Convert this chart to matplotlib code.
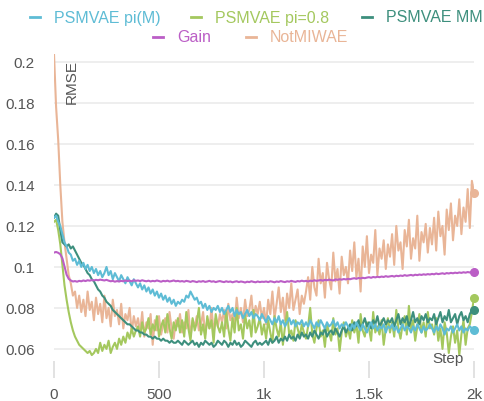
import numpy as np
import matplotlib
matplotlib.use("Agg")
import matplotlib.pyplot as plt
from matplotlib.lines import Line2D

plt.rcParams['font.family'] = ['Liberation Sans', 'DejaVu Sans']

# training steps, one point every 10 steps
steps = np.arange(0, 2001, 10)

# RMSE values, in units of 1e-3 (gain in 1e-4)
notmiwae = np.array([
    204, 178, 162, 140, 122, 112, 104, 96, 92, 86, 88, 80, 86, 78, 84, 76, 88, 79, 83, 74,
    85, 77, 82, 73, 86, 75, 80, 71, 84, 76, 79, 72, 82, 70, 77, 74, 80, 68, 76, 71,
    75, 68, 78, 66, 73, 70, 77, 62, 74, 69, 76, 67, 72, 75, 68, 78, 70, 65, 74, 71,
    77, 68, 73, 70, 79, 66, 74, 71, 76, 69, 72, 78, 67, 74, 70, 80, 68, 75, 71, 77,
    73, 79, 70, 82, 74, 77, 72, 85, 75, 80, 73, 84, 76, 79, 86, 74, 81, 77, 83, 75,
    80, 72, 84, 77, 88, 75, 82, 90, 78, 85, 74, 87, 80, 92, 79, 84, 89, 77, 86, 82,
    88, 95, 84, 100, 90, 86, 104, 92, 97, 85, 102, 94, 89, 107, 93, 99, 87, 105, 96, 100,
    92, 108, 98, 112, 95, 104, 88, 110, 100, 115, 97, 106, 102, 118, 96, 109, 104, 113, 99, 111,
    105, 116, 101, 120, 108, 112, 99, 118, 110, 123, 104, 114, 109, 125, 103, 117, 112, 121, 107, 119,
    111, 124, 108, 127, 115, 120, 106, 128, 118, 131, 113, 125, 120, 133, 116, 129, 122, 138, 119, 142,
    136]) / 1000

gain = np.array([
    1070, 1073, 1069, 1062, 1042, 1002, 962, 942, 934, 929, 931, 928, 932, 930, 934, 931, 935, 933, 936, 934,
    937, 935, 938, 936, 934, 937, 933, 930, 932, 928, 931, 929, 932, 930, 934, 931, 933, 930, 935, 932,
    934, 931, 935, 932, 930, 933, 929, 932, 930, 934, 931, 928, 932, 930, 933, 929, 931, 934, 930, 932,
    929, 931, 928, 932, 930, 927, 931, 929, 926, 930, 928, 931, 927, 929, 932, 928, 930, 926, 929, 931,
    928, 926, 930, 927, 929, 925, 928, 930, 926, 929, 927, 924, 928, 926, 930, 927, 925, 929, 926, 928,
    927, 929, 926, 930, 928, 925, 929, 927, 931, 928, 926, 930, 928, 932, 929, 927, 931, 929, 933, 930,
    932, 929, 933, 931, 935, 932, 934, 936, 933, 937, 935, 938, 936, 934, 939, 937, 940, 938, 941, 939,
    942, 940, 943, 945, 942, 946, 944, 947, 945, 948, 950, 947, 951, 949, 952, 950, 953, 951, 955, 952,
    954, 956, 953, 957, 955, 958, 956, 960, 957, 959, 961, 958, 962, 960, 963, 961, 964, 962, 965, 963,
    966, 964, 968, 965, 967, 969, 966, 970, 968, 971, 969, 972, 970, 973, 971, 974, 972, 975, 973, 976,
    975]) / 10000

pi_m = np.array([
    124, 125, 122, 120, 116, 112, 110, 107, 106, 103, 104, 101, 103, 100, 102, 99, 101, 98, 100, 97,
    99, 96, 98, 95, 97, 100, 96, 98, 94, 97, 95, 93, 96, 94, 92, 95, 93, 91, 94, 92,
    90, 92, 89, 91, 88, 90, 87, 89, 86, 88, 85, 87, 84, 86, 83, 85, 82, 84, 81, 83,
    82, 84, 83, 86, 85, 88, 86, 84, 85, 82, 83, 80, 82, 79, 81, 78, 80, 79, 81, 78,
    80, 77, 79, 81, 78, 80, 76, 79, 77, 78, 75, 77, 79, 76, 78, 75, 77, 76, 74, 77,
    75, 73, 76, 74, 72, 75, 73, 76, 72, 74, 71, 73, 75, 72, 74, 71, 73, 72, 74, 71,
    73, 71, 74, 72, 70, 73, 71, 74, 72, 70, 73, 71, 72, 74, 71, 73, 70, 72, 71, 73,
    71, 69, 72, 70, 73, 71, 69, 72, 70, 68, 71, 73, 70, 72, 69, 71, 70, 72, 68, 71,
    70, 72, 69, 71, 68, 70, 72, 69, 71, 70, 68, 71, 69, 72, 70, 68, 71, 69, 70, 72,
    70, 68, 71, 69, 72, 70, 67, 70, 69, 71, 68, 70, 72, 69, 71, 68, 70, 69, 71, 70,
    69]) / 1000

pi_08 = np.array([
    122, 123, 118, 111, 101, 91, 84, 78, 73, 69, 66, 64, 62, 61, 60, 59, 58, 59, 57, 58,
    60, 58, 63, 59, 62, 60, 64, 58, 61, 63, 60, 65, 62, 66, 63, 68, 65, 70, 66, 69,
    71, 66, 73, 68, 70, 75, 67, 72, 69, 76, 66, 71, 74, 68, 77, 70, 65, 73, 69, 75,
    68, 74, 66, 78, 70, 64, 75, 69, 73, 80, 67, 72, 65, 76, 70, 74, 63, 77, 71, 68,
    73, 66, 78, 70, 64, 75, 68, 80, 69, 72, 65, 77, 70, 74, 66, 79, 68, 71, 75, 67,
    72, 65, 74, 68, 63, 76, 70, 66, 73, 62, 71, 78, 67, 69, 64, 74, 70, 66, 72, 68,
    65, 71, 80, 67, 63, 70, 74, 66, 69, 61, 72, 68, 64, 75, 67, 70, 59, 68, 73, 66,
    70, 65, 74, 68, 72, 63, 77, 69, 66, 73, 70, 64, 78, 68, 71, 67, 74, 62, 70, 75,
    68, 73, 66, 79, 70, 65, 72, 76, 67, 81, 69, 74, 64, 71, 77, 68, 73, 66, 78, 70,
    72, 67, 75, 64, 70, 60, 73, 68, 58, 66, 71, 63, 69, 57, 67, 74, 62, 70, 72, 78,
    85]) / 1000

mm = np.array([
    124, 126, 125, 118, 112, 111, 110, 111, 109, 110, 108, 106, 104, 102, 101, 99, 97, 96, 94, 93,
    91, 89, 88, 86, 85, 83, 82, 81, 79, 78, 77, 76, 75, 74, 73, 72, 72, 71, 70, 69,
    69, 68, 68, 67, 67, 66, 66, 65, 66, 65, 65, 64, 65, 64, 64, 63, 64, 63, 63, 64,
    63, 62, 64, 63, 62, 63, 64, 62, 63, 61, 63, 62, 64, 63, 62, 63, 61, 62, 64, 63,
    62, 64, 63, 61, 63, 62, 64, 62, 63, 61, 62, 64, 63, 62, 61, 63, 64, 62, 63, 62,
    63, 64, 62, 65, 63, 64, 66, 63, 65, 64, 66, 64, 67, 65, 66, 64, 67, 65, 68, 66,
    67, 65, 68, 66, 69, 67, 65, 68, 67, 70, 66, 68, 69, 67, 70, 68, 66, 69, 71, 68,
    70, 72, 69, 73, 71, 74, 70, 72, 75, 71, 73, 70, 74, 72, 76, 71, 73, 75, 72, 74,
    73, 75, 71, 74, 77, 72, 75, 73, 76, 71, 74, 78, 73, 75, 72, 76, 74, 77, 73, 75,
    74, 77, 72, 75, 78, 73, 76, 74, 79, 73, 75, 77, 72, 76, 78, 74, 76, 73, 77, 79,
    79]) / 1000

labels = ["PSMVAE pi(M)", "PSMVAE pi=0.8", "PSMVAE MM", "Gain", "NotMIWAE"]
colors = ["#5ebcd5", "#a4c85e", "#3d8f7d", "#bb5ec6", "#e9b597"]
series = [pi_m, pi_08, mm, gain, notmiwae]

W, H = 484, 402
fig = plt.figure(figsize=(W / 100, H / 100), dpi=100)
ax = fig.add_axes([54 / W, 40 / H, 420 / W, 307 / H])

# draw order: NotMIWAE at the bottom
zorders = [5, 3, 4, 6, 2]
for vals, col, z in zip(series, colors, zorders):
    ax.plot(steps, vals, color=col, lw=1.5, zorder=z)
    ax.plot(steps[-1], vals[-1], "o", color=col, ms=5.5, zorder=z, clip_on=False)

ax.set_xlim(0, 2000)
ax.set_ylim(0.0541, 0.2039)
for s in ax.spines.values():
    s.set_visible(False)

ax.set_yticks([0.06, 0.08, 0.1, 0.12, 0.14, 0.16, 0.18, 0.2])
ax.set_yticklabels(["0.06", "0.08", "0.1", "0.12", "0.14", "0.16", "0.18", "0.2"])
ax.yaxis.grid(True, color="#ebebeb", lw=1.2, zorder=0)
ax.set_axisbelow(True)
ax.tick_params(axis="y", length=0, pad=14, labelsize=11, labelcolor="#555555")

ax.set_xticks([0, 500, 1000, 1500, 2000])
ax.set_xticklabels(["0", "500", "1k", "1.5k", "2k"])
ax.tick_params(axis="x", length=12, width=1.2, color="#dddddd", pad=7,
               labelsize=11, labelcolor="#555555")

ax.text(0.043, 0.985, "RMSE", transform=ax.transAxes, rotation=90,
        ha="center", va="top", fontsize=11, color="#555555")
ax.text(0.975, -0.012, "Step", transform=ax.transAxes,
        ha="right", va="bottom", fontsize=11, color="#555555")

# legend drawn by hand: two centred rows
legend_pos = [(54, 18), (215, 18), (386, 18), (177, 38), (270, 38)]
for lab, col, (tx, ty) in zip(labels, colors, legend_pos):
    y = 1 - ty / H
    fig.add_artist(Line2D([(tx - 24) / W, (tx - 14) / W], [y, y], color=col, lw=2))
    fig.text(tx / W, y, lab, color=col, fontsize=11.5, ha="left", va="center")

fig.savefig("out.png", dpi=100)
